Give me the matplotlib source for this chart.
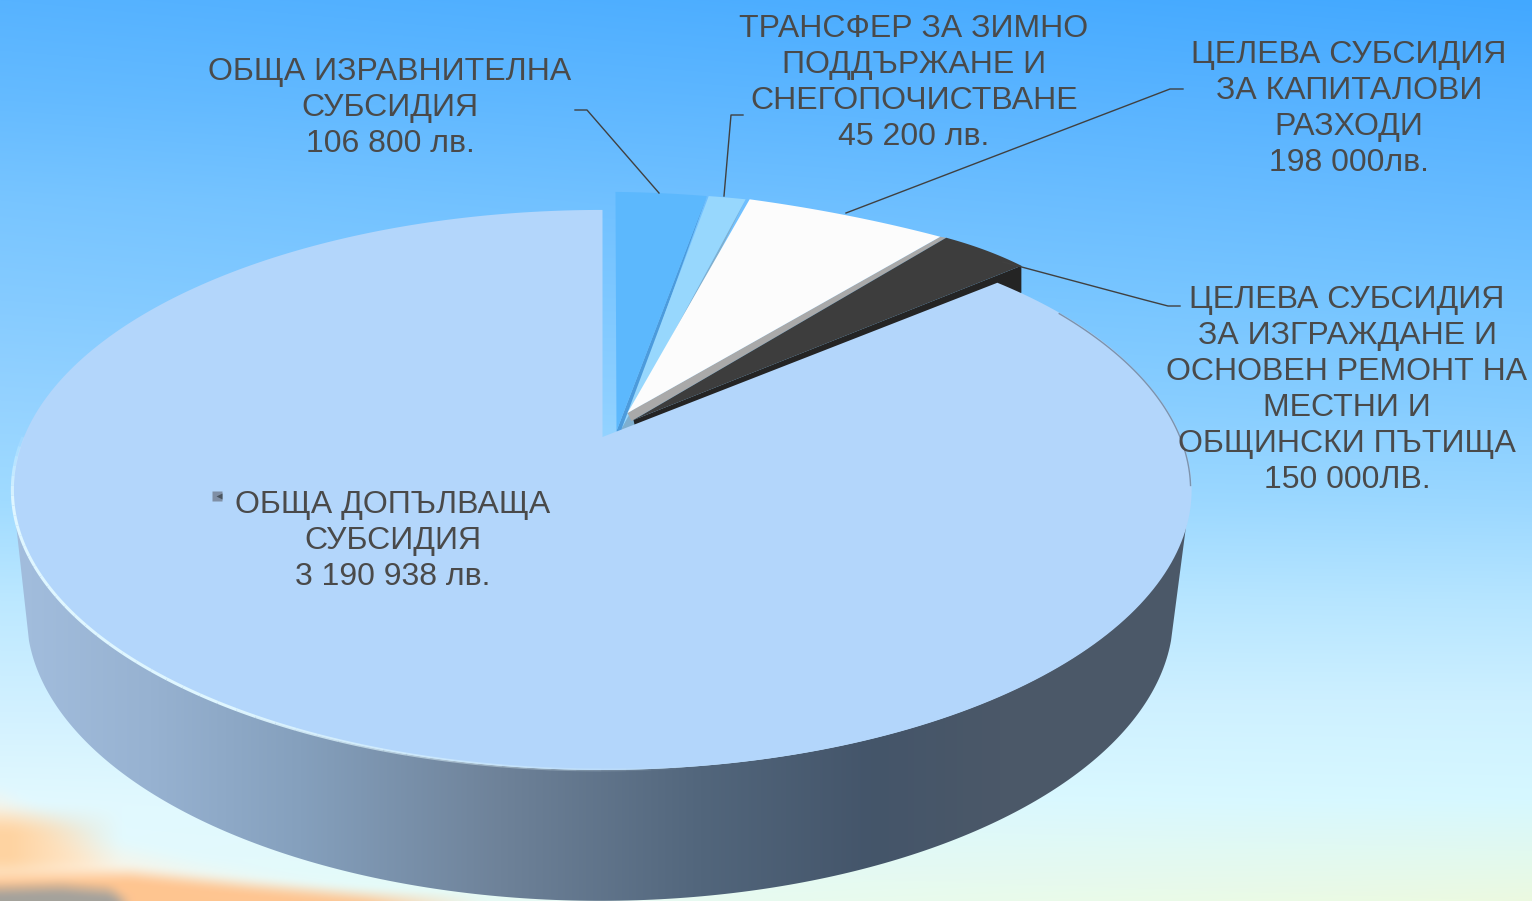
# 3D-looking pie, drawn by hand since matplotlib has no perspective pie

import matplotlib
matplotlib.use('Agg')
import matplotlib.pyplot as plt
import matplotlib.colors as mcolors
from matplotlib.patches import Polygon
import numpy as np

# Data
categories = ['Обща изравнителна', 'Зимно поддържане', 'Капиталови разходи',
              'Местни пътища', 'Обща допълваща']
values = [106800, 45200, 198000, 150000, 3190938]
labels = ['ОБЩА ИЗРАВНИТЕЛНА\nСУБСИДИЯ\n106 800 лв.',
          'ТРАНСФЕР ЗА ЗИМНО\nПОДДЪРЖАНЕ И\nСНЕГОПОЧИСТВАНЕ\n45 200 лв.',
          'ЦЕЛЕВА СУБСИДИЯ\nЗА КАПИТАЛОВИ\nРАЗХОДИ\n198 000лв.',
          'ЦЕЛЕВА СУБСИДИЯ\nЗА ИЗГРАЖДАНЕ И\nОСНОВЕН РЕМОНТ НА\nМЕСТНИ И\nОБЩИНСКИ ПЪТИЩА\n150 000ЛВ.',
          'ОБЩА ДОПЪЛВАЩА\nСУБСИДИЯ\n3 190 938 лв.']

# Styles and layout (pixels)
top_colors = ['#5cb8fd', '#97d7fd', '#fcfcfc', '#3d3d3d', '#b3d6fb']
wall_colors = ['#4c9bdc', '#7fafcf', '#a9a9a9', '#242424', None]
label_pos = [(390, 108), (914, 83), (1349, 109), (1347, 390), (393, 541)]
leaders = [[(659, 193), (587, 110), (575, 110)],
           [(724, 196), (731, 115), (743, 115)],
           [(846, 213), (1170, 89), (1183, 89)],
           [(1003, 262), (1145, 300), (1168, 306), (1180, 306)]]
# how far each slice is pulled out of the pie: apex, rim start, rim end
apex_shift = [(15, -6), (20, -8), (26, -24), (32, -17), (1, 0)]
start_shift = [(14, -18), (19, -17), (23, -17), (64, -6), (9, 4)]
end_shift = [(17, -17), (19, -17), (58, -7), (33, -13), (1, 0)]
wall_width = [(4, 8), (6, 10), (4, 8), (2, 9), (0, 0)]
wall_rim = [(-1, 3), (-2, 4), (6, 1), (0, 27), (0, 0)]

W, H = 1532, 901


# disc coordinates -> image pixels, a simple perspective
def project(theta, r=1.0, cx=601.5, cy=437, a=270, b=578.5, k=0.189):
    u = r * np.sin(theta)
    v = r * np.cos(theta)
    w = 1 + k * v
    return cx + b * u / w, cy - a * v / w


def project_bottom(theta):
    return project(theta, cx=600, cy=561, a=275.6, b=563)


def box_blur(img, size):
    kernel = np.ones(size) / float(size)
    pad = size // 2
    for axis in (0, 1):
        widths = [(pad, pad) if n == axis else (0, 0) for n in range(3)]
        padded = np.pad(img, widths, mode='edge')
        img = np.apply_along_axis(lambda q: np.convolve(q, kernel, mode='valid'), axis, padded)
    return img


# Background sky
def sky():
    ys = [0, 100, 200, 300, 400, 500, 600, 700, 800, 901]
    left = ['#57b3ff', '#65bbff', '#78c5ff', '#85cbff', '#94d2ff', '#a0dbff', '#bce8ff', '#d0f0ff', '#e2f9ff', '#e4fbff']
    right = ['#42a8ff', '#55b1ff', '#65baff', '#74c4ff', '#84ccff', '#9ad7ff', '#b6e5ff', '#cdf0ff', '#d6f8ff', '#ecfae0']
    left = np.array([mcolors.to_rgb(c) for c in left])
    right = np.array([mcolors.to_rgb(c) for c in right])
    yy = np.arange(H)
    xx = np.arange(W)
    img = np.zeros((H, W, 3))
    for i in range(3):
        l = np.interp(yy, ys, left[:, i])
        r = np.interp(yy, ys, right[:, i])
        img[:, :, i] = l[:, None] + (r - l)[:, None] * xx[None, :] / W
    # cloud in the lower left corner, soft bands one over the other
    edge = np.interp(xx, [0, 30, 100, 200, 350, 520, 700], [785, 800, 835, 858, 885, 900, 930])
    d = yy[:, None] - edge[None, :]
    t = 0.95 * np.clip(d / 35, 0, 1)[:, :, None]
    img = img * (1 - t) + np.array(mcolors.to_rgb('#fff2e0')) * t
    # peach patch, strongest against the left border
    t = 0.75 * (np.clip((yy[:, None] - 805) / 25.0, 0, 1) * np.clip((885 - yy[:, None]) / 25.0, 0, 1))[:, :, None]
    t = t * np.clip(1.1 - xx[None, :, None] / 110.0, 0, 1)
    img = img * (1 - t) + np.array(mcolors.to_rgb('#ffc98c')) * t
    band = np.interp(xx, [0, 130, 250, 400, 520], [872, 868, 880, 893, 903])
    d2 = yy[:, None] - band[None, :]
    t = 0.9 * np.clip(d2 / 10, 0, 1)[:, :, None]
    img = img * (1 - t) + np.array(mcolors.to_rgb('#ffc088')) * t
    low = np.interp(xx, [0, 60, 110, 145], [884, 882, 886, 912])
    t = np.clip((yy[:, None] - low[None, :]) / 8, 0, 1)[:, :, None]
    img = img * (1 - t) + np.array(mcolors.to_rgb('#a5a29c')) * t
    img[740:, :700] = box_blur(img[740:, :700], 15)
    return img


fig = plt.figure(figsize=(W / 100, H / 100), dpi=100)
ax = fig.add_axes([0, 0, 1, 1])
ax.imshow(sky(), extent=(0, W, H, 0), aspect='auto', zorder=0)

# Side wall with a left to right gradient
theta = np.linspace(np.pi / 4, 7 * np.pi / 4, 400)
tx, ty = project(theta)
bx, by = project_bottom(theta)
wall = list(zip(tx[ty >= 490], ty[ty >= 490])) + list(zip(bx[by >= 640][::-1], by[by >= 640][::-1]))
wall_patch = Polygon(wall, closed=True, fc='none', ec='none')
ax.add_patch(wall_patch)
stops_x = [0, 20, 150, 300, 500, 700, 870, 1000, 1532]
stops_c = ['#a2bddd', '#a2bddd', '#97b2d1', '#85a0bd', '#6e8299', '#52667c', '#44556a', '#4b5868', '#4b5868']
grad = np.array([mcolors.to_rgb(c) for c in stops_c])
grad_img = np.stack([np.interp(np.arange(W), stops_x, grad[:, i]) for i in range(3)], axis=-1)[None, :, :]
im = ax.imshow(grad_img, extent=(0, W, H, 0), aspect='auto', zorder=1)
im.set_clip_path(wall_patch)

# Slices, clockwise from twelve o'clock
edges = np.cumsum([0] + values) / float(sum(values)) * 2 * np.pi
for i in range(len(values)):
    t = np.linspace(edges[i], edges[i + 1], 300)
    x, y = project(t)
    f = np.linspace(0, 1, 300)
    if i == 4:
        # the big slice only needs its first corner moved
        f = np.clip(f * 12, 0, 1)
    x = x + start_shift[i][0] * (1 - f) + end_shift[i][0] * f
    y = y + start_shift[i][1] * (1 - f) + end_shift[i][1] * f
    ax_, ay_ = project(0.0, r=0.0)
    ax_ += apex_shift[i][0]
    ay_ += apex_shift[i][1]
    # the big slice sits on top of the dark wall, the others go from first to last
    z = 3 if i == 4 else 2 + i * 0.1
    if wall_colors[i] is not None:
        ww, wh = wall_width[i]
        rx, ry = wall_rim[i]
        side = [(ax_, ay_), (x[-1], y[-1]), (x[-1] + rx, y[-1] + ry), (ax_ + ww, ay_ + wh)]
        ax.add_patch(Polygon(side, closed=True, fc=wall_colors[i], ec='none', zorder=z))
    ax.add_patch(Polygon([(ax_, ay_)] + list(zip(x, y)), closed=True,
                         fc=top_colors[i], ec='none', zorder=z + 0.05))

# Rim highlights on the big slice, the light one fades out at both ends
rim_angles = np.linspace(172, 272, 51)
for n in range(len(rim_angles) - 1):
    t = np.radians(np.linspace(rim_angles[n], rim_angles[n + 1], 5))
    fade = min(1.0, (rim_angles[n] - rim_angles[0]) / 40.0, (rim_angles[-1] - rim_angles[n + 1]) / 14.0)
    ax.plot(*project(t), color='#dff6ff', lw=2.2, alpha=fade, zorder=3.2, solid_capstyle='butt')
t = np.radians(np.linspace(60, 100, 60))
ax.plot(*project(t), color='#6f8299', lw=1.0, alpha=0.8, zorder=3.2)

# Leader lines
for pts in leaders:
    ax.plot([p[0] for p in pts], [p[1] for p in pts], color='#404040', lw=1, zorder=4)

# Text
for txt, pos in zip(labels, label_pos):
    ax.text(pos[0], pos[1], txt, ha='center', va='center', ma='center', color='#4a4a4a',
            family='Liberation Sans', fontsize=23, linespacing=1.255, zorder=5)

# Tiny legend key left of the big label
ax.plot([217], [496], marker='s', ms=6.5, color='#7f8fa5', mec='none', zorder=5)
ax.plot([219], [496], marker='<', ms=4.5, color='#4a5560', mec='none', zorder=5)

ax.set_xlim(0, W)
ax.set_ylim(H, 0)
ax.axis('off')
fig.savefig('out.png', dpi=100)
